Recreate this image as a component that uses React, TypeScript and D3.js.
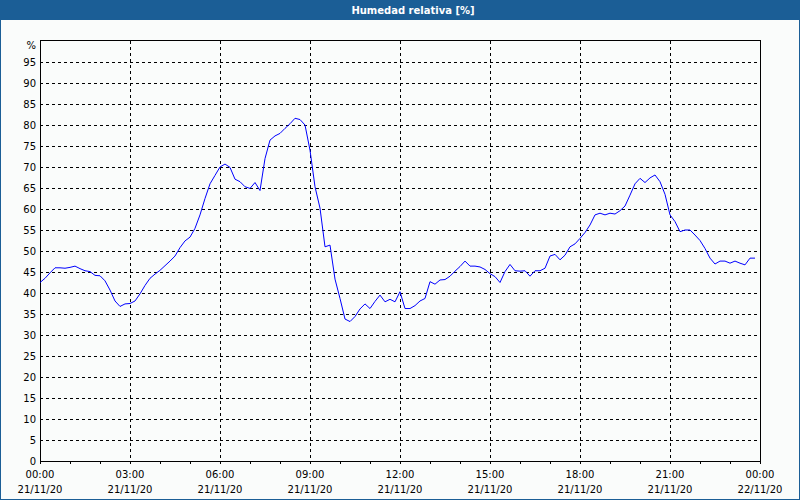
import React from "react";
import * as d3 from "d3";

const TITLE = "Humedad relativa [%]";
const UNIT = "%";
// relative humidity every 10 minutes starting 21/11/20 00:00
const humidity: number[] = [
  42.5, 43.5, 44.8, 46.0, 46.0, 45.9, 46.1, 46.4, 45.8, 45.3, 45.1, 44.2,
  44.1, 42.9, 40.7, 38.1, 36.8, 37.4, 37.5, 38.1, 39.8, 41.8, 43.5, 44.5,
  45.4, 46.5, 47.6, 48.8, 50.8, 52.4, 53.3, 55.4, 58.6, 62.5, 66.0, 68.0,
  70.0, 70.7, 69.9, 67.1, 66.5, 65.3, 64.9, 66.3, 64.4, 72.0, 76.4, 77.4,
  78.0, 79.2, 80.3, 81.6, 81.3, 80.0, 74.0, 65.3, 60.2, 51.0, 51.4, 43.3,
  38.7, 33.8, 33.2, 34.4, 36.2, 37.4, 36.3, 38.0, 39.5, 37.9, 38.5, 37.9,
  40.3, 36.3, 36.3, 37.0, 38.1, 38.7, 42.7, 42.1, 43.1, 43.2, 44.0, 45.2,
  46.3, 47.6, 46.4, 46.4, 46.2, 45.6, 44.6, 43.9, 42.5, 45.1, 46.8, 45.3,
  45.2, 45.3, 44.0, 45.3, 45.3, 45.9, 48.8, 49.2, 47.9, 49.0, 51.0, 51.7,
  53.0, 54.4, 56.2, 58.6, 59.0, 58.6, 59.0, 58.8, 59.6, 60.7, 63.3, 66.0,
  67.3, 66.3, 67.4, 68.1, 66.5, 63.5, 58.6, 57.0, 54.6, 55.0, 55.0, 53.8,
  52.5, 50.6, 48.3, 46.9, 47.6, 47.6, 47.1, 47.6, 47.1, 46.7, 48.3, 48.3,
];
const yTicks: number[] = [0, 5, 10, 15, 20, 25, 30, 35, 40, 45, 50, 55, 60, 65, 70, 75, 80, 85, 90, 95];
const xTickHours: number[] = [0, 3, 6, 9, 12, 15, 18, 21, 24];
const xTickTimes: string[] = ["00:00", "03:00", "06:00", "09:00", "12:00", "15:00", "18:00", "21:00", "00:00"];
const xTickDates: string[] = ["21/11/20", "21/11/20", "21/11/20", "21/11/20", "21/11/20", "21/11/20", "21/11/20", "21/11/20", "22/11/20"];
const STEP_MIN = 10;

export default function App() {
  const W = 800, H = 500;
  const left = 40, right = 760, top = 41, bottom = 461;
  const x = d3.scaleLinear().domain([0, 24]).range([left, right]);
  const y = d3.scaleLinear().domain([0, 100]).range([bottom, top]);
  const line = d3
    .line<number>()
    .x((_, i) => x((i * STEP_MIN) / 60))
    .y((d) => y(d));
  const blue = "#1b5e96";
  const font = "DejaVu Sans, Verdana, sans-serif";
  const hours = d3.range(0, 25);
  return (
    <svg width={W} height={H} style={{ position: "absolute", left: 0, top: 0 }} fontFamily={font}>
      <rect x={0} y={0} width={W} height={H} fill="#fafcfb" />
      <rect x={0.5} y={0.5} width={W - 1} height={H - 1} fill="none" stroke={blue} strokeWidth={1} />
      <rect x={0} y={0} width={W} height={20} fill={blue} />
      <text x={413} y={14} fill="#ffffff" fontSize={10} fontWeight="bold" textAnchor="middle">
        {TITLE}
      </text>
      {/* horizontal grid */}
      {yTicks.filter((t) => t > 0).map((t) => (
        <line key={"h" + t} x1={left} x2={right} y1={y(t) + 0.5} y2={y(t) + 0.5} stroke="#000" strokeDasharray="3,3" shapeRendering="crispEdges" />
      ))}
      {/* vertical grid */}
      {xTickHours.filter((h) => h > 0 && h < 24).map((h) => (
        <line key={"v" + h} x1={x(h) + 0.5} x2={x(h) + 0.5} y1={top} y2={bottom} stroke="#000" strokeDasharray="3,3" shapeRendering="crispEdges" />
      ))}
      {/* frame */}
      <rect x={left + 0.5} y={top - 0.5} width={right - left} height={bottom - top + 0.5} fill="none" stroke="#000" shapeRendering="crispEdges" />
      {/* hour ticks */}
      {hours.map((h) => (
        <line key={"t" + h} x1={x(h) + 0.5} x2={x(h) + 0.5} y1={bottom} y2={bottom + 3} stroke="#000" shapeRendering="crispEdges" />
      ))}
      {/* y labels */}
      {yTicks.map((t) => (
        <text key={"yl" + t} x={36} y={y(t) + 4} fontSize={10} textAnchor="end" fill="#000">
          {t}
        </text>
      ))}
      <text x={36} y={49} fontSize={10} textAnchor="end" fill="#000">{UNIT}</text>
      {/* x labels */}
      {xTickHours.map((h, i) => (
        <g key={"xl" + h}>
          <text x={x(h)} y={478} fontSize={10} textAnchor="middle" fill="#000">{xTickTimes[i]}</text>
          <text x={x(h)} y={493} fontSize={10} textAnchor="middle" fill="#000">{xTickDates[i]}</text>
        </g>
      ))}
      <path d={line(humidity) || ""} fill="none" stroke="#0000ff" strokeWidth={1} />
    </svg>
  );
}
